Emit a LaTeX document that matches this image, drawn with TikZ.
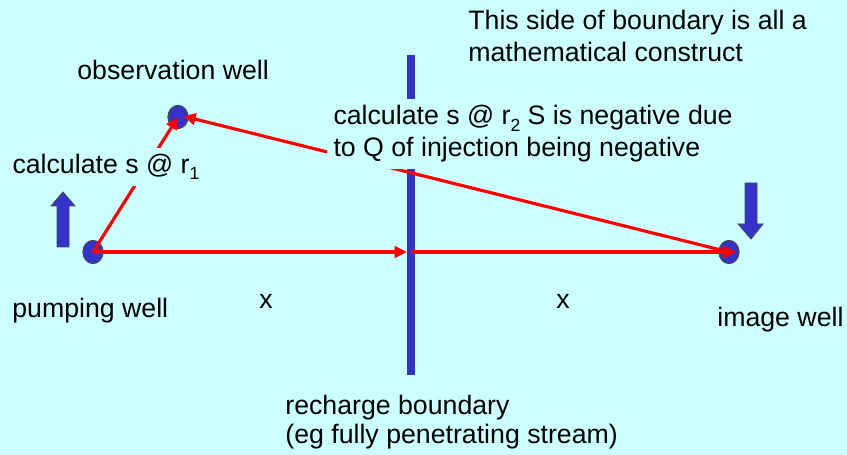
\documentclass[tikz,border=0pt]{standalone}
\usepackage{fontspec}
\setmainfont{Liberation Sans}
\usepackage{tikz}
\usetikzlibrary{shapes.geometric, arrows.meta, positioning, calc}

\definecolor{bgcyan}{HTML}{CCFFFF}
\definecolor{wellblue}{HTML}{3333CC}
\definecolor{linered}{HTML}{FF0000}

\newcommand{\lowsub}[1]{\raisebox{-0.45ex}{\fontsize{10}{10}\selectfont #1}}

\tikzset{
    well/.style={ellipse, draw=black!70, fill=wellblue, line width=0.6pt,
        minimum width=11.5pt, minimum height=13.2pt, inner sep=0},
    lbl/.style={inner sep=0, align=left},
    cover/.style={fill=bgcyan, inner sep=3.5pt, align=left},
    ray/.style={draw=linered, line width=1.8pt, -{Triangle[length=7pt,width=6.5pt]}},
    blockarrow/.style={fill=wellblue, draw=black!70, line width=0.5pt}
}

\begin{document}
\begin{tikzpicture}[x=0.02cm, y=-0.02cm, font=\fontsize{15.2}{18.2}\selectfont]
    \useasboundingbox (0,0) rectangle (847,455);
    \fill[bgcyan] (0,0) rectangle (847,455);
    % boundary
    \coordinate (btop) at (411,55);
    \coordinate (bbot) at (411,375);
    \draw[wellblue, line width=4.5pt] (btop) -- (bbot);
    \coordinate (b) at (411,252);
    \coordinate (bl) at (407,252);
    % wells
    \node[well] (pw) at (93,252) {};
    \node[well] (ow) at (178,117) {};
    \node[well] (iw) at (729,252) {};
    % pumping / injection arrows
    \draw[blockarrow] (57,247) -- (57,206) -- (51,206) -- (63,192) -- (75,206)
        -- (69,206) -- (69,247) -- cycle;
    \draw[blockarrow] (745,183) -- (745,224) -- (738,224) -- (751,239) -- (763,224)
        -- (757,224) -- (757,183) -- cycle;
    % distances
    \draw[ray] (pw.center) -- (bl);
    \draw[ray] (b) -- ([xshift=4]iw.center);
    \draw[ray] (pw.center) -- (ow.center);
    \draw[ray, shorten >=-2pt] (iw.center) -- ([xshift=5]ow.center);
    % labels
    \node[cover, anchor=west] (r1) at (6,167) {calculate s @ r\lowsub{1}};
    \node[cover, anchor=west] (r2) at (327,134)
        {calculate s @ r\lowsub{2} S is negative due\\to Q of injection being negative};
    \node[lbl, anchor=west] (side) at (468,36)
        {This side of boundary is all a\\mathematical construct};
    \node[lbl, anchor=west] (owl) at (77,70) {observation well};
    \node[lbl, anchor=west] (pwl) at (12,311) {pumping well};
    \node[lbl, anchor=west] (iwl) at (717,320) {image well};
    \node[lbl] (x1) at (266,301) {x};
    \node[lbl] (x2) at (563,301) {x};
    \node[lbl, anchor=west, font=\fontsize{15.2}{16.5}\selectfont] (rb) at (285,422)
        {recharge boundary\\(eg fully penetrating stream)};
\end{tikzpicture}
\end{document}
